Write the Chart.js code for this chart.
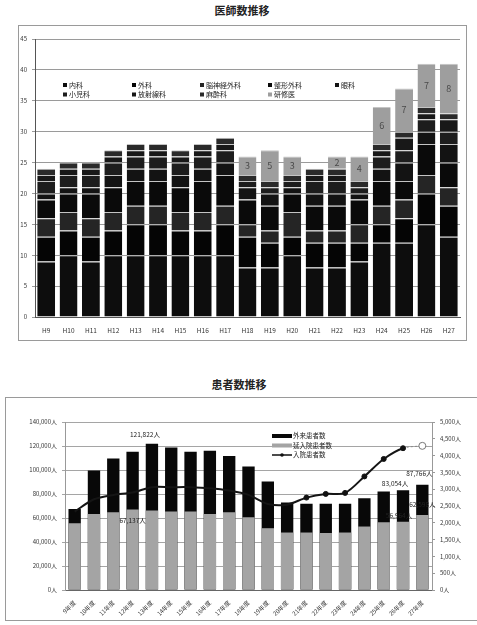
<!DOCTYPE html>
<html lang="ja">
<head>
<meta charset="utf-8">
<script src="https://cdn.jsdelivr.net/npm/chart.js@4.4.1/dist/chart.umd.min.js"></script>
<style>
  body { margin: 0; width: 477px; height: 625px; background: #fff; position: relative; overflow: hidden;
         font-family: "Noto Sans CJK JP", "Noto Sans", sans-serif; }
  .title { position: absolute; font-weight: bold; font-size: 11px; color: #222; transform: translateX(-50%); white-space: nowrap; }
  .box { position: absolute; border: 1px solid #9a9a9a; box-sizing: border-box; }
  canvas { position: absolute; }
</style>
</head>
<body>
<div class="title" style="left:242px;top:2px">医師数推移</div>
<div class="box" style="left:18px;top:25px;width:449px;height:316px"></div>
<canvas id="doctors" width="448" height="316" style="left:18px;top:25px"></canvas>

<div class="title" style="left:239px;top:376px">患者数推移</div>
<div class="box" style="left:5px;top:397px;width:474px;height:224px"></div>
<canvas id="patients" width="471" height="222" style="left:5px;top:398px"></canvas>

<script>
const FONT = '"Noto Sans CJK JP", "Noto Sans", sans-serif'

// ---- 医師数推移 ----
const doctorYears = ['H9', 'H10', 'H11', 'H12', 'H13', 'H14', 'H15', 'H16', 'H17', 'H18',
  'H19', 'H20', 'H21', 'H22', 'H23', 'H24', 'H25', 'H26', 'H27']
const naika     = [9, 10, 9, 10, 10, 10, 10, 10, 10, 8, 8, 10, 8, 8, 9, 12, 12, 15, 13]
const geka      = [4, 4, 4, 4, 5, 5, 4, 4, 5, 5, 4, 3, 4, 4, 3, 3, 4, 5, 5]
const nouGeka   = [3, 3, 3, 3, 3, 3, 3, 3, 3, 2, 2, 4, 2, 2, 3, 3, 3, 3, 3]
const seikei    = [3, 3, 4, 4, 4, 4, 4, 5, 5, 4, 4, 3, 4, 4, 4, 4, 3, 5, 4]
const ganka     = [1, 1, 1, 2, 2, 2, 2, 2, 2, 2, 2, 1, 2, 2, 1, 2, 3, 2, 3]
const shounika  = [2, 2, 2, 2, 2, 2, 2, 2, 2, 1, 1, 1, 2, 2, 1, 2, 2, 2, 2]
const houshasen = [1, 1, 1, 1, 1, 1, 1, 1, 1, 0, 0, 0, 1, 1, 0, 1, 2, 1, 2]
const masui     = [1, 1, 1, 1, 1, 1, 1, 1, 1, 1, 1, 1, 1, 1, 1, 1, 1, 1, 1]
const kenshui   = [0, 0, 0, 0, 0, 0, 0, 0, 0, 3, 5, 3, 0, 2, 4, 6, 7, 7, 8]

const departments = [
  { label: '内科', data: naika, color: '#0d0d0d' },
  { label: '外科', data: geka, color: '#050505' },
  { label: '脳神経外科', data: nouGeka, color: '#252525' },
  { label: '整形外科', data: seikei, color: '#0a0a0a' },
  { label: '眼科', data: ganka, color: '#131313' },
  { label: '小児科', data: shounika, color: '#1d1d1d' },
  { label: '放射線科', data: houshasen, color: '#181818' },
  { label: '麻酔科', data: masui, color: '#2a2a2a' },
  { label: '研修医', data: kenshui, color: '#9e9e9e', showValues: true },
]

// legend drawn inside the plot, 5 columns x 2 rows
const gridLegend = {
  id: 'gridLegend',
  afterDraw(chart, args, opts) {
    const ctx = chart.ctx
    ctx.save()
    ctx.font = '7px ' + FONT
    ctx.textBaseline = 'middle'
    chart.data.datasets.forEach((ds, i) => {
      const x = opts.cols[i % opts.cols.length]
      const y = opts.rows[Math.floor(i / opts.cols.length)]
      ctx.fillStyle = ds.backgroundColor
      ctx.fillRect(x, y - 2, 4, 4)
      ctx.fillStyle = '#222'
      ctx.fillText(ds.label, x + 6, y)
    })
    ctx.restore()
  },
}

const segmentValues = {
  id: 'segmentValues',
  afterDatasetsDraw(chart) {
    const ctx = chart.ctx
    ctx.save()
    ctx.font = '9px ' + FONT
    ctx.fillStyle = '#4a4a4a'
    ctx.textAlign = 'center'
    ctx.textBaseline = 'middle'
    chart.data.datasets.forEach((ds, i) => {
      if (!ds.showValues) return
      chart.getDatasetMeta(i).data.forEach((bar, j) => {
        if (!ds.data[j]) return
        ctx.fillText(ds.data[j], bar.x, (bar.y + bar.base) / 2)
      })
    })
    ctx.restore()
  },
}

new Chart(document.getElementById('doctors'), {
  type: 'bar',
  data: {
    labels: doctorYears,
    datasets: departments.map((d) => ({
      label: d.label,
      data: d.data,
      backgroundColor: d.color,
      borderColor: '#c4c4c4',
      borderWidth: { top: 1, left: 0, right: 0, bottom: 0 },
      categoryPercentage: 1,
      barPercentage: 0.8,
      showValues: d.showValues,
    })),
  },
  options: {
    responsive: false,
    animation: false,
    layout: { padding: { top: 14, right: 6, left: 0, bottom: 0 } },
    plugins: {
      legend: { display: false },
      tooltip: { enabled: false },
      gridLegend: { cols: [45, 114, 182, 250, 317], rows: [60, 69.5] },
    },
    scales: {
      x: {
        stacked: true,
        grid: { display: false },
        border: { color: '#555' },
        ticks: { font: { size: 6.5, family: FONT }, color: '#333', padding: 2, maxRotation: 0, autoSkip: false },
        afterFit(s) { s.height = 24 },
      },
      y: {
        stacked: true,
        min: 0,
        max: 45,
        ticks: { stepSize: 5, font: { size: 6, family: FONT }, color: '#333', padding: 5 },
        grid: { color: '#9a9a9a', tickLength: 3 },
        border: { color: '#555' },
        afterFit(s) { s.width = 17 },
      },
    },
  },
  plugins: [gridLegend, segmentValues],
})

// ---- 患者数推移 ----
const fiscalYears = ['9年度', '10年度', '11年度', '12年度', '13年度', '14年度', '15年度', '16年度',
  '17年度', '18年度', '19年度', '20年度', '21年度', '22年度', '23年度', '24年度', '25年度', '26年度', '27年度']
const gairai = [67600, 99600, 109600, 115200, 121822, 118800, 115200, 116000, 111600, 103000,
  90500, 72900, 71800, 71800, 71800, 76500, 82100, 83054, 87766]
const nobeNyuin = [55700, 63400, 64800, 67137, 66200, 65400, 65400, 63400, 64800, 60700,
  51500, 47900, 47900, 47500, 47900, 52900, 56500, 56964, 62598]
const nyuin = [2335, 2700, 2830, 2900, 3060, 3060, 3060, 3030, 2960, 2830,
  2560, 2540, 2750, 2860, 2890, 3380, 3900, 4220, 4290]
const gairaiLabeled = [4, 17, 18]
const nobeLabeled = [3, 17, 18]

const last = nyuin.length - 1
const yen = (v) => v.toLocaleString('en-US') + '人'

const pickedValues = {
  id: 'pickedValues',
  afterDatasetsDraw(chart) {
    const ctx = chart.ctx
    ctx.save()
    ctx.font = '6.5px ' + FONT
    ctx.fillStyle = '#222'
    ctx.textAlign = 'center'
    ctx.textBaseline = 'middle'
    chart.data.datasets.forEach((ds, i) => {
      if (!ds.picked) return
      const els = chart.getDatasetMeta(i).data
      ds.picked.forEach((j, k) => {
        const off = ds.pickedOffset[k]
        ctx.fillText(yen(ds.data[j]), els[j].x + off[0], els[j].y + off[1])
      })
    })
    ctx.restore()
  },
}

const sideLegend = {
  id: 'sideLegend',
  afterDraw(chart, args, opts) {
    const ctx = chart.ctx
    ctx.save()
    ctx.font = '6.5px ' + FONT
    ctx.textBaseline = 'middle'
    const order = [1, 2, 0]
    order.forEach((i, r) => {
      const ds = chart.data.datasets[i]
      const y = opts.y + r * 9.5
      if (ds.type === 'line') {
        ctx.strokeStyle = '#111'
        ctx.lineWidth = 1.5
        ctx.beginPath()
        ctx.moveTo(opts.x, y)
        ctx.lineTo(opts.x + 20, y)
        ctx.stroke()
        ctx.fillStyle = '#111'
        ctx.beginPath()
        ctx.arc(opts.x + 10, y, 1.8, 0, Math.PI * 2)
        ctx.fill()
      } else {
        ctx.fillStyle = ds.backgroundColor
        ctx.fillRect(opts.x, y - 2, 20, 4)
      }
      ctx.fillStyle = '#222'
      ctx.fillText(ds.label, opts.x + 21, y)
    })
    ctx.restore()
  },
}

new Chart(document.getElementById('patients'), {
  type: 'bar',
  data: {
    labels: fiscalYears,
    datasets: [
      {
        type: 'line',
        label: '入院患者数',
        data: nyuin,
        yAxisID: 'yR',
        order: 0,
        borderColor: '#151515',
        borderWidth: 2,
        tension: 0.3,
        pointRadius: (c) => (c.dataIndex < 12 ? 0 : c.dataIndex === last ? 3.5 : 2.5),
        pointBackgroundColor: (c) => (c.dataIndex === last ? '#fff' : '#111'),
        pointBorderColor: (c) => (c.dataIndex === last ? '#777' : '#111'),
        pointBorderWidth: 1,
        segment: {
          borderDash: (c) => (c.p1DataIndex === last ? [2, 2] : undefined),
          borderColor: (c) => (c.p1DataIndex === last ? '#888' : undefined),
          borderWidth: (c) => (c.p1DataIndex === last ? 1 : undefined),
        },
      },
      {
        label: '外来患者数',
        data: gairai,
        yAxisID: 'yL',
        order: 2,
        grouped: false,
        backgroundColor: '#080808',
        categoryPercentage: 1,
        barPercentage: 0.64,
        picked: gairaiLabeled,
        pickedOffset: [[-7, -9], [-8, -7], [-3, -11]],
      },
      {
        label: '延入院患者数',
        data: nobeNyuin,
        yAxisID: 'yL',
        order: 1,
        grouped: false,
        backgroundColor: '#a4a4a4',
        categoryPercentage: 1,
        barPercentage: 0.64,
        picked: nobeLabeled,
        pickedOffset: [[0, 11], [-4, -6], [0, -10]],
      },
    ],
  },
  options: {
    responsive: false,
    animation: false,
    layout: { padding: { top: 24, right: 0, left: 0, bottom: 0 } },
    plugins: {
      legend: { display: false },
      tooltip: { enabled: false },
      sideLegend: { x: 267, y: 38 },
    },
    scales: {
      x: {
        grid: { display: false },
        border: { color: '#666' },
        ticks: { font: { size: 6, family: FONT }, color: '#333', minRotation: 45, maxRotation: 45, autoSkip: false, padding: 1 },
        afterFit(s) { s.height = 30 },
      },
      yL: {
        position: 'left',
        min: 0,
        max: 140000,
        ticks: { stepSize: 20000, font: { size: 6, family: FONT }, color: '#333', padding: 5, callback: (v) => yen(v) },
        grid: { color: '#a5a5a5', tickLength: 3 },
        border: { color: '#999' },
        afterFit(s) { s.width = 60 },
      },
      yR: {
        position: 'right',
        min: 0,
        max: 5000,
        ticks: { stepSize: 500, font: { size: 6, family: FONT }, color: '#333', padding: 5, callback: (v) => yen(v) },
        grid: { drawOnChartArea: false, tickLength: 3, color: '#999' },
        border: { color: '#999' },
        afterFit(s) { s.width = 44 },
      },
    },
  },
  plugins: [pickedValues, sideLegend],
})
</script>
</body>
</html>
